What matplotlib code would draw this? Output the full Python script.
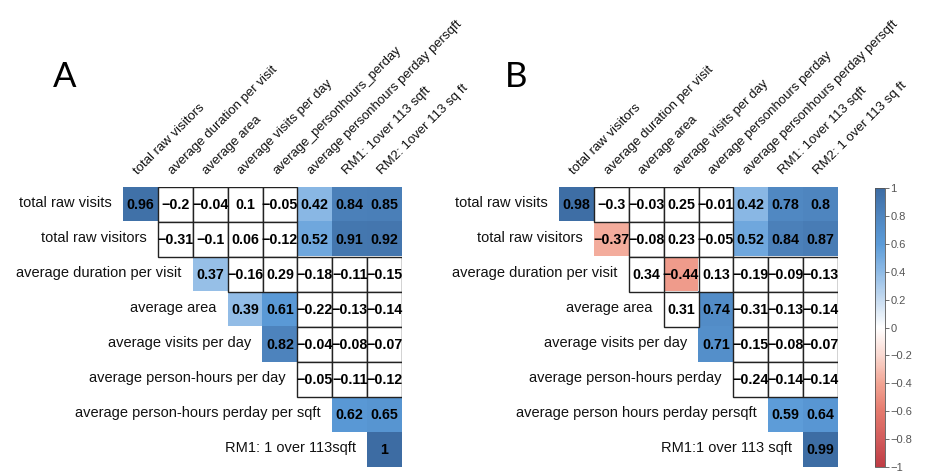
import numpy as np
import matplotlib
matplotlib.use("Agg")
import matplotlib.pyplot as plt
from matplotlib.colors import LinearSegmentedColormap
from matplotlib.patches import Rectangle
from matplotlib.cm import ScalarMappable

plt.rcParams['font.family'] = ['Liberation Sans', 'DejaVu Sans']

# row / column labels of both panels
rows_a = ["total raw visits", "total raw visitors", "average duration per visit", "average area",
          "average visits per day", "average person-hours per day",
          "average person-hours perday per sqft", "RM1: 1 over 113sqft"]
cols_a = ["total raw visitors", "average duration per visit", "average area", "average visits per day",
          "average_personhours_perday", "average personhours perday persqft",
          "RM1: 1over 113 sqft", "RM2: 1over 113 sq ft"]
rows_b = ["total raw visits", "total raw visitors", "average duration per visit", "average area",
          "average visits per day", "average person-hours perday",
          "average person hours perday persqft", "RM1:1 over 113 sqft"]
cols_b = ["total raw visitors", "average duration per visit", "average area", "average visits per day",
          "average personhours perday", "average personhours perday persqft",
          "RM1: 1over 113 sqft", "RM2: 1 over 113 sq ft"]

# upper triangle values, row i starts at column i
vals_a = [[0.96, -0.2, -0.04, 0.1, -0.05, 0.42, 0.84, 0.85],
          [-0.31, -0.1, 0.06, -0.12, 0.52, 0.91, 0.92],
          [0.37, -0.16, 0.29, -0.18, -0.11, -0.15],
          [0.39, 0.61, -0.22, -0.13, -0.14],
          [0.82, -0.04, -0.08, -0.07],
          [-0.05, -0.11, -0.12],
          [0.62, 0.65],
          [1.0]]
# 1 = significant (coloured), 0 = blank boxed cell
sig_a = [[1, 0, 0, 0, 0, 1, 1, 1],
         [0, 0, 0, 0, 1, 1, 1],
         [1, 0, 0, 0, 0, 0],
         [1, 1, 0, 0, 0],
         [1, 0, 0, 0],
         [0, 0, 0],
         [1, 1],
         [1]]

vals_b = [[0.98, -0.3, -0.03, 0.25, -0.01, 0.42, 0.78, 0.8],
          [-0.37, -0.08, 0.23, -0.05, 0.52, 0.84, 0.87],
          [0.34, -0.44, 0.13, -0.19, -0.09, -0.13],
          [0.31, 0.74, -0.31, -0.13, -0.14],
          [0.71, -0.15, -0.08, -0.07],
          [-0.24, -0.14, -0.14],
          [0.59, 0.64],
          [0.99]]
sig_b = [[1, 0, 0, 0, 0, 1, 1, 1],
         [1, 0, 0, 0, 1, 1, 1],
         [0, 1, 0, 0, 0, 0],
         [0, 1, 0, 0, 0],
         [1, 0, 0, 0],
         [0, 0, 0],
         [1, 1],
         [1]]

cbar_ticks = [1, 0.8, 0.6, 0.4, 0.2, 0, -0.2, -0.4, -0.6, -0.8, -1]

# colour scale
cmap = LinearSegmentedColormap.from_list("corr", [
    (0.0, "#BF3C44"), (0.1, "#D25C5C"), (0.2, "#E57A6E"), (0.3, "#F2A594"), (0.4, "#FAD9D1"),
    (0.5, "#FFFFFF"),
    (0.6, "#C6DBF0"), (0.7, "#8FBBE6"), (0.8, "#5B9BD8"), (0.9, "#4F86C0"), (1.0, "#3D6CA3")])


def fmt(v):
    s = f"{v:g}"
    return s.replace("-", "\u2212")


def draw_panel(ax, rows, cols, vals, sig):
    n = len(rows)
    grid = np.full((n, n), np.nan)
    for i, r in enumerate(vals):
        for k, v in enumerate(r):
            if sig[i][k]:
                grid[i, i + k] = v
    ax.imshow(np.ma.masked_invalid(grid), cmap=cmap, vmin=-1, vmax=1,
              interpolation="nearest", aspect="auto")
    # blank boxes for non-significant cells
    for i, r in enumerate(vals):
        for k, v in enumerate(r):
            j = i + k
            if not sig[i][k]:
                ax.add_patch(Rectangle((j - 0.5, i - 0.5), 1, 1, facecolor="white",
                                       edgecolor="#222222", lw=1.0, zorder=2))
    for i, r in enumerate(vals):
        for k, v in enumerate(r):
            ax.text(i + k, i + 0.02, fmt(v), ha="center", va="center", fontsize=10.3,
                    fontweight="bold", color="black", zorder=3)
    # row labels
    for i, lab in enumerate(rows):
        ax.text(i - 0.83, i - 0.03, lab, ha="right", va="center", fontsize=10.5, color="#111111")
    # column labels
    for j, lab in enumerate(cols):
        ax.text(j - 0.02, -0.78, lab, ha="left", va="bottom", rotation=45,
                rotation_mode="anchor", fontsize=9.5, color="#111111")
    ax.set_xlim(-0.5, n - 0.5)
    ax.set_ylim(n - 0.5, -0.5)
    ax.axis("off")


fig = plt.figure(figsize=(9.27, 4.73), dpi=100)
ax_a = fig.add_axes([123 / 927, 6 / 473, 279 / 927, 280 / 473])
ax_b = fig.add_axes([559 / 927, 6 / 473, 279 / 927, 280 / 473])
draw_panel(ax_a, rows_a, cols_a, vals_a, sig_a)
draw_panel(ax_b, rows_b, cols_b, vals_b, sig_b)

fig.text(53 / 927, 1 - 87 / 473, "A", fontsize=25, ha="left", va="baseline",
         family=["Lato", "Liberation Sans"])
fig.text(505 / 927, 1 - 87 / 473, "B", fontsize=25, ha="left", va="baseline",
         family=["Lato", "Liberation Sans"])

# colour bar
cax = fig.add_axes([875 / 927, 6 / 473, 10 / 927, 279 / 473])
sm = ScalarMappable(cmap=cmap, norm=plt.Normalize(-1, 1))
cb = fig.colorbar(sm, cax=cax, ticks=cbar_ticks)
cb.ax.set_yticklabels([fmt(t) for t in cbar_ticks])
cb.ax.tick_params(labelsize=8, length=3, width=0.6, colors="#555555", pad=1)
cb.outline.set_linewidth(0.6)
cb.outline.set_edgecolor("#555555")

fig.savefig("out.png", dpi=100)
